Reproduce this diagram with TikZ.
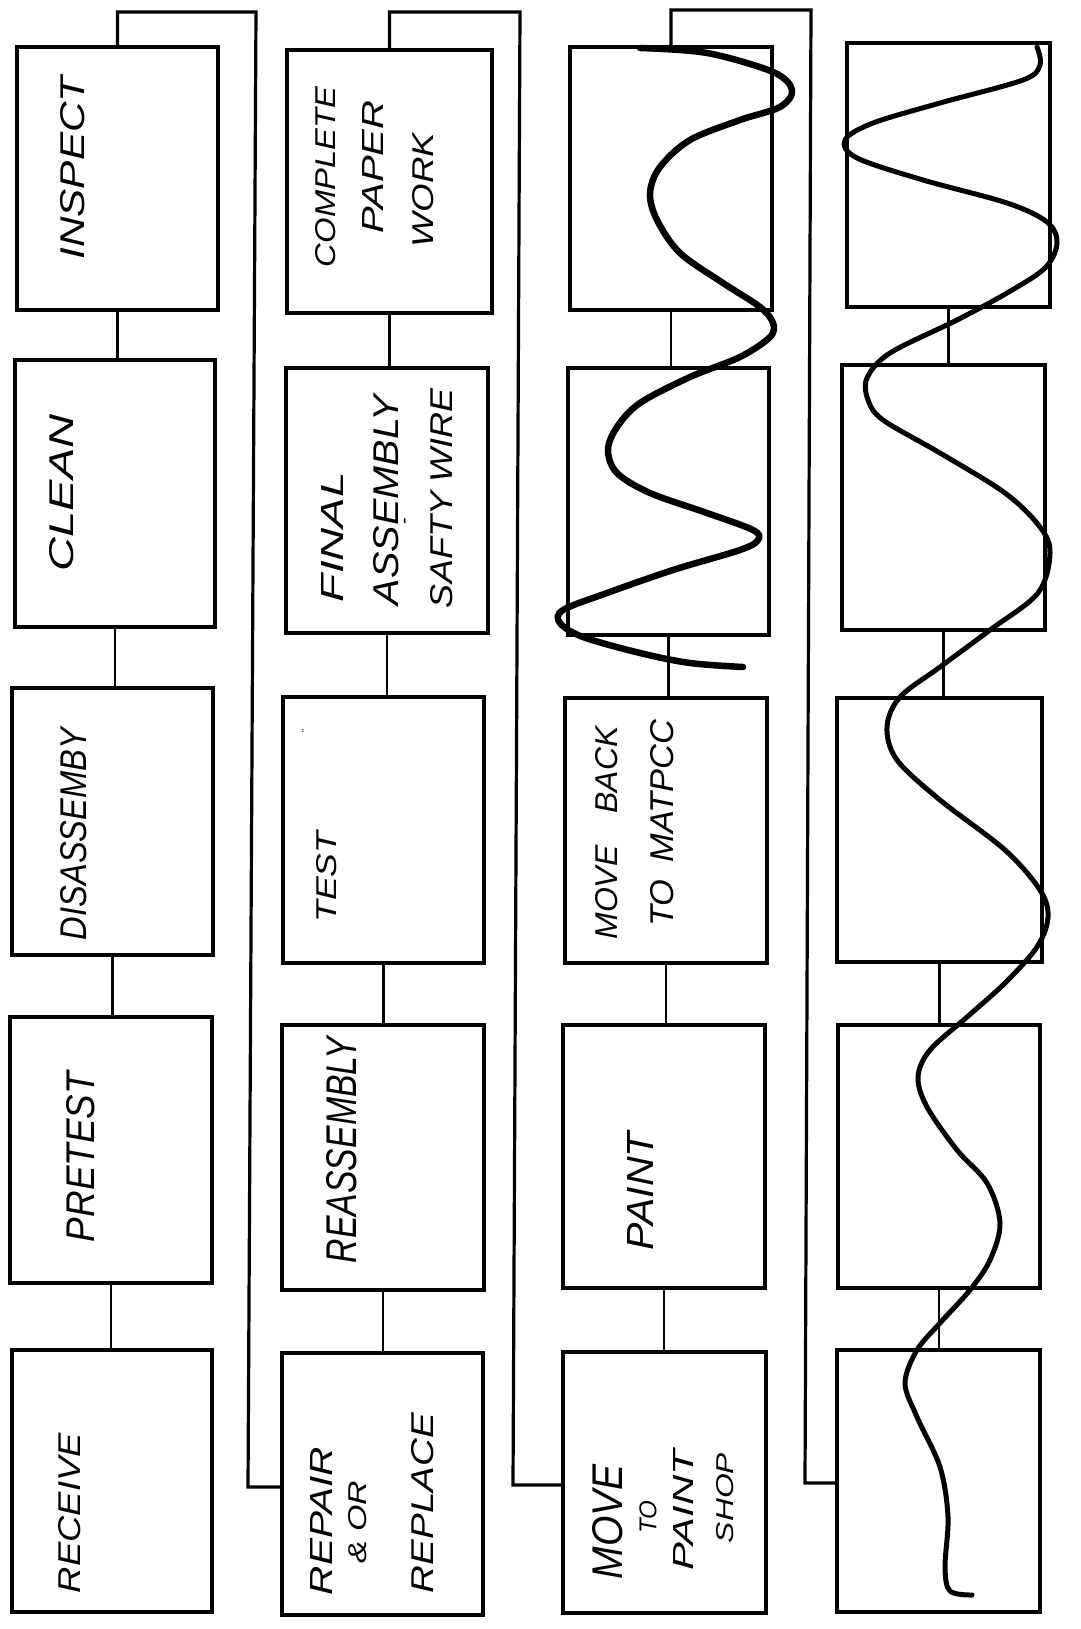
\documentclass[tikz,border=0pt]{standalone}
\usepackage{fontspec}
\setmainfont{Liberation Sans}
\usepackage{graphicx}
\newcommand{\handtext}[3]{\resizebox{#1pt}{#2pt}{\itshape #3}}
\begin{document}
\begin{tikzpicture}[x=1pt,y=-1pt,
  box/.style={draw, line width=3.6pt, inner sep=0pt, outer sep=0pt},
  lbl/.style={rotate=90, inner sep=0pt},
  link/.style={line width=2.6pt},
  feed/.style={line width=3.2pt, line join=miter},
  scrib/.style={line width=6.5pt, line cap=round, line join=round},
  scribthin/.style={line width=5pt, line cap=round, line join=round}]
\useasboundingbox (0,0) rectangle (1080,1629);

% column 1
\node[box, minimum width=201pt, minimum height=263pt] (b11) at (117.5,178.5) {};
\node[box, minimum width=200pt, minimum height=267pt] (b12) at (115,493.5) {};
\node[box, minimum width=201pt, minimum height=267pt] (b13) at (112.5,821.5) {};
\node[box, minimum width=202pt, minimum height=266pt] (b14) at (111,1150) {};
\node[box, minimum width=200pt, minimum height=262pt] (b15) at (112,1481) {};
% column 2
\node[box, minimum width=205pt, minimum height=263pt] (b21) at (389.5,181.5) {};
\node[box, minimum width=202pt, minimum height=265pt] (b22) at (387,500.5) {};
\node[box, minimum width=201pt, minimum height=266pt] (b23) at (383.5,830) {};
\node[box, minimum width=202pt, minimum height=265pt] (b24) at (383,1157.5) {};
\node[box, minimum width=201pt, minimum height=262pt] (b25) at (382.5,1484) {};
% column 3
\node[box, minimum width=202pt, minimum height=263pt] (b31) at (671,178.5) {};
\node[box, minimum width=201pt, minimum height=267pt] (b32) at (668.5,501.5) {};
\node[box, minimum width=202pt, minimum height=265pt] (b33) at (666,830.5) {};
\node[box, minimum width=202pt, minimum height=263pt] (b34) at (664,1156.5) {};
\node[box, minimum width=203pt, minimum height=261pt] (b35) at (664.5,1482.5) {};
% column 4
\node[box, minimum width=203pt, minimum height=264pt] (b41) at (948.5,175) {};
\node[box, minimum width=203pt, minimum height=265pt] (b42) at (943.5,497.5) {};
\node[box, minimum width=205pt, minimum height=264pt] (b43) at (939.5,830) {};
\node[box, minimum width=202pt, minimum height=263pt] (b44) at (939,1156.5) {};
\node[box, minimum width=203pt, minimum height=262pt] (b45) at (938.5,1481) {};

% links inside columns
\foreach \c in {1,2,3,4}{
  \foreach \r/\s in {1/2,2/3,3/4,4/5}{
    \draw[link] (b\c\r.south) -- (b\c\r.south |- b\c\s.north);
  }
}

% feeds from top of one column to bottom of next
\coordinate (f1a) at (118,12);
\coordinate (f1b) at (256,12);
\coordinate (f1c) at (248,1487);
\draw[feed] (b11.north) -- (b11.north |- f1a) -- (f1b) -- (f1c) -- (f1c -| b25.west);
\coordinate (f2a) at (390,12);
\coordinate (f2b) at (520,12);
\coordinate (f2c) at (513,1485);
\draw[feed] (b21.north) -- (b21.north |- f2a) -- (f2b) -- (f2c) -- (f2c -| b35.west);
\coordinate (f3a) at (672,10);
\coordinate (f3b) at (811,10);
\coordinate (f3c) at (805,1483);
\draw[feed] (b31.north) -- (b31.north |- f3a) -- (f3b) -- (f3c) -- (f3c -| b45.west);

% labels column 1
\node[lbl] (t11) at (73,168) {\handtext{183}{24}{INSPECT}};
\node[lbl] (t12) at (62,493) {\handtext{157}{24}{CLEAN}};
\node[lbl] (t13) at (74,834) {\handtext{212}{26}{DISASSEMBY}};
\node[lbl] (t14) at (81,1157) {\handtext{170}{28}{PRETEST}};
\node[lbl] (t15) at (70,1513) {\handtext{160}{22}{RECEIVE}};
% labels column 2
\node[lbl] (t21a) at (326,177) {\handtext{180}{20}{COMPLETE}};
\node[lbl] (t21b) at (373,167) {\handtext{133}{21}{PAPER}};
\node[lbl] (t21c) at (423,190) {\handtext{114}{21}{WORK}};
\node[lbl] (t22a) at (332,537) {\handtext{130}{22}{FINAL}};
\node[lbl] (t22b) at (386,500) {\handtext{210}{25}{ASSEMBLY}};
\node[lbl] (t22c) at (407,521) {\fontsize{20}{20}\selectfont -};
\node[lbl] (t22d) at (442,498) {\handtext{220}{22}{SAFTY WIRE}};
\node[lbl] (t23) at (327,877) {\handtext{91}{20}{TEST}};
\node[lbl] (t23m) at (305,731) {\fontsize{9}{9}\selectfont ''};
\node[lbl] (t24) at (342,1150) {\handtext{226}{30}{REASSEMBLY}};
\node[lbl] (t25a) at (321,1521) {\handtext{148}{22}{REPAIR}};
\node[lbl] (t25b) at (358,1522) {\handtext{83}{18}{\& OR}};
\node[lbl] (t25c) at (423,1503) {\handtext{180}{22}{REPLACE}};
% labels column 3
\node[lbl] (t33a) at (607,833) {\handtext{213}{22}{MOVE\quad BACK}};
\node[lbl] (t33b) at (662,823) {\handtext{207}{23}{TO\enspace MATPCC}};
\node[lbl] (t34) at (640,1191) {\handtext{118}{26}{PAINT}};
\node[lbl] (t35a) at (608,1522) {\handtext{115}{30}{MOVE}};
\node[lbl] (t35b) at (648,1517) {\handtext{33}{17}{TO}};
\node[lbl] (t35c) at (683,1510) {\handtext{120}{20}{PAINT}};
\node[lbl] (t35d) at (725,1498) {\handtext{90}{17}{SHOP}};

% scribbles
\draw[scrib] plot[smooth, tension=0.55] coordinates {
 (640,48) (707,53) (773,72) (792,90) (780,107) (740,120) (690,140) (660,167)
 (650,193) (657,220) (680,253) (723,283) (760,307) (773,323) (770,337)
 (740,357) (690,377) (640,403) (617,427) (608,450) (617,473) (650,493)
 (707,513) (753,530) (758,540) (740,550) (673,570) (607,593) (563,610)
 (560,623) (583,637) (640,653) (690,663) (743,667)};
\draw[scribthin] plot[smooth, tension=0.55] coordinates {
 (1037,47) (1040,65) (1023,80) (940,103) (873,123) (845,140) (857,158)
 (923,180) (1007,203) (1047,222) (1057,243) (1045,268) (1007,293) (957,320)
 (890,353) (867,378) (868,400) (883,420) (940,453) (1005,493) (1040,527)
 (1050,553) (1038,593) (990,630) (940,667) (900,697) (887,727) (897,760)
 (940,800) (1005,850) (1040,890) (1048,917) (1037,947) (1005,983) (967,1017)
 (930,1050) (918,1077) (927,1107) (957,1150) (987,1183) (1000,1223)
 (990,1260) (970,1290) (940,1323) (917,1350) (905,1383) (917,1417)
 (940,1467) (948,1517) (945,1567) (950,1591) (972,1595)};
\end{tikzpicture}
\end{document}
